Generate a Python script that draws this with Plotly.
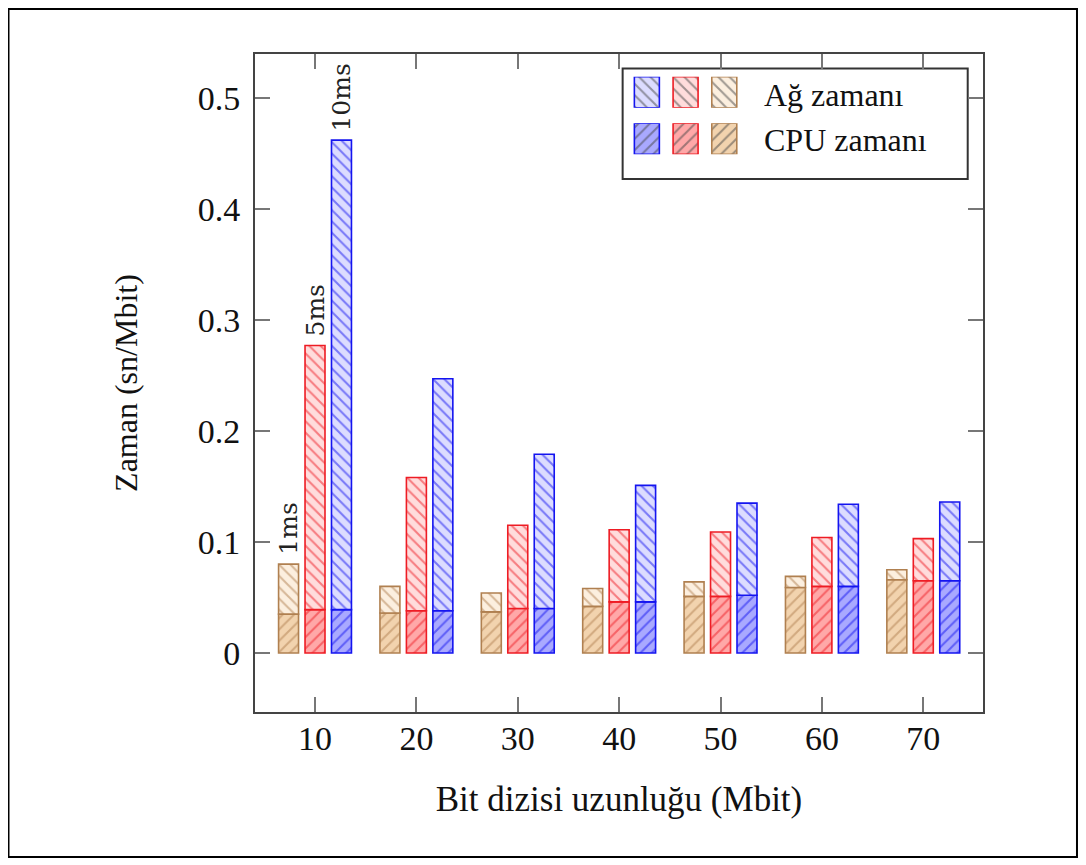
import plotly.graph_objects as go

# ---------------- data ----------------
lengths = [10, 20, 30, 40, 50, 60, 70]
delays = ["1ms", "5ms", "10ms"]
total_1ms = [0.080, 0.060, 0.054, 0.058, 0.064, 0.069, 0.075]
cpu_1ms = [0.035, 0.036, 0.037, 0.042, 0.051, 0.059, 0.066]
total_5ms = [0.277, 0.158, 0.115, 0.111, 0.109, 0.104, 0.103]
cpu_5ms = [0.039, 0.038, 0.040, 0.046, 0.051, 0.060, 0.065]
total_10ms = [0.462, 0.247, 0.179, 0.151, 0.135, 0.134, 0.136]
cpu_10ms = [0.039, 0.038, 0.040, 0.046, 0.052, 0.060, 0.065]
y_tick_vals = [0, 0.1, 0.2, 0.3, 0.4, 0.5]
y_tick_text = ["0", "0.1", "0.2", "0.3", "0.4", "0.5"]
legend_labels = ["Ağ zamanı", "CPU zamanı"]

totals = [total_1ms, total_5ms, total_10ms]
cpus = [cpu_1ms, cpu_5ms, cpu_10ms]

# ---------------- styles ----------------
line_cols = ["#b08050", "#ee1c24", "#1414f0"]
net_bg = ["#fcefdf", "#ffdcdc", "#dcdcff"]
cpu_bg = ["#f2d3ae", "#ffa8a8", "#a9a9ff"]
SERIF = "Liberation Serif"
BARGAP = 0.217
BARGROUPGAP = 0.245
PAT_SIZE = 8
PAT_SOL = 0.26

fig = go.Figure()

for i in range(3):
    net = [t - c for t, c in zip(totals[i], cpus[i])]
    fig.add_trace(go.Bar(
        x=lengths, y=cpus[i], offsetgroup=str(i), name=f"CPU {delays[i]}",
        marker=dict(color=cpu_bg[i], line=dict(color=line_cols[i], width=1.6),
                    pattern=dict(shape="/", fillmode="overlay", fgcolor=line_cols[i],
                                 size=PAT_SIZE, solidity=PAT_SOL)),
        showlegend=False))
    fig.add_trace(go.Bar(
        x=lengths, y=net, base=cpus[i], offsetgroup=str(i), name=f"Ağ {delays[i]}",
        marker=dict(color=net_bg[i], line=dict(color=line_cols[i], width=1.6),
                    pattern=dict(shape="\\", fillmode="overlay", fgcolor=line_cols[i],
                                 size=PAT_SIZE, solidity=PAT_SOL)),
        showlegend=False))

# legend swatches (order in legend: 10ms, 5ms, 1ms) drawn in small helper axes
order = [2, 1, 0]
for shape, bgs, yax in [("\\", net_bg, "y3"), ("/", cpu_bg, "y4")]:
    fig.add_trace(go.Bar(
        x=[0, 1, 2], y=[1, 1, 1], base=[0, 0, 0], width=0.646,
        xaxis="x2", yaxis=yax, showlegend=False, hoverinfo="skip",
        marker=dict(color=[bgs[k] for k in order],
                    line=dict(color=[line_cols[k] for k in order], width=1.6),
                    pattern=dict(shape=shape, fillmode="overlay",
                                 fgcolor=[line_cols[k] for k in order],
                                 size=PAT_SIZE, solidity=PAT_SOL))))

slot = 10 * (1 - BARGAP) / 3
annotations = []
for i in range(3):
    annotations.append(dict(
        x=lengths[0] + (i - 1) * slot, y=totals[i][0], xref="x", yref="y",
        text=delays[i], textangle=-90, showarrow=False, xanchor="center",
        yanchor="bottom", yshift=7,
        font=dict(family="DejaVu Serif", size=25, color="#222")))

annotations.append(dict(x=0.696, y=0.937, xref="paper", yref="paper", text=legend_labels[0],
                        showarrow=False, xanchor="left", yanchor="middle",
                        font=dict(family=SERIF, size=32, color="#111")))
annotations.append(dict(x=0.696, y=0.870, xref="paper", yref="paper", text=legend_labels[1],
                        showarrow=False, xanchor="left", yanchor="middle",
                        font=dict(family=SERIF, size=32, color="#111")))

shapes = [
    dict(type="rect", xref="paper", yref="paper", x0=0.505, x1=0.979, y0=0.810, y1=0.978,
         line=dict(color="#333", width=2), fillcolor="white", layer="below"),
    dict(type="rect", xref="paper", yref="paper", x0=-0.3386, x1=1.1291, y0=-0.2204, y1=1.0685,
         line=dict(color="black", width=2)),
]

axis_common = dict(showgrid=False, zeroline=False, showline=True, linecolor="#444",
                   linewidth=2, mirror="ticks", ticks="inside", ticklen=15, tickwidth=1.5,
                   tickcolor="#777", tickfont=dict(family=SERIF, size=34, color="#111"))

fig.update_layout(
    width=1078, height=857,
    margin=dict(l=247, r=103, t=46, b=153, autoexpand=False),
    paper_bgcolor="white", plot_bgcolor="white",
    barmode="group", bargap=BARGAP, bargroupgap=BARGROUPGAP,
    xaxis=dict(range=[4.08, 75.89], tickvals=lengths, ticklabelstandoff=-5,
               title=dict(text="Bit dizisi uzunluğu (Mbit)", standoff=31,
                          font=dict(family=SERIF, size=35, color="#111")),
               **axis_common),
    yaxis=dict(range=[-0.0532, 0.5396], tickvals=y_tick_vals, ticktext=y_tick_text,
               ticklabelstandoff=6,
               title=dict(text="Zaman (sn/Mbit)", standoff=51,
                          font=dict(family=SERIF, size=32, color="#111")),
               **axis_common),
    xaxis2=dict(domain=[0.5117, 0.6712], range=[-0.5, 2.5], anchor="y3", visible=False),
    yaxis3=dict(domain=[0.9184, 0.9655], range=[0, 1], anchor="x2", visible=False),
    yaxis4=dict(domain=[0.8476, 0.8947], range=[0, 1], anchor="x2", visible=False),
    annotations=annotations,
    shapes=shapes,
)

fig.write_html("out.html")
